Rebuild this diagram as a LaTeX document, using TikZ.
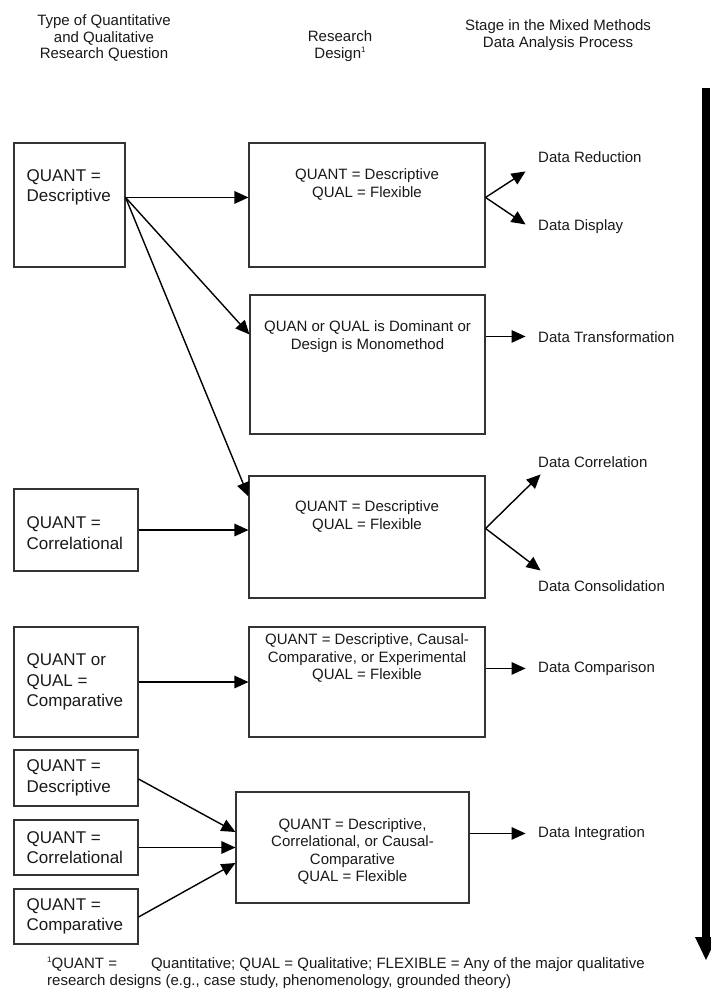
\documentclass[tikz,border=0pt]{standalone}
\usepackage{fontspec}
\setmainfont{Liberation Sans}
\usetikzlibrary{arrows.meta,calc}
\begin{document}
\begin{tikzpicture}[x=1pt,y=-1pt,
  box/.style={draw=black!80, line width=1.1pt, inner sep=0pt},
  lefttext/.style={anchor=west, align=left, inner sep=0pt, font=\fontsize{17}{20.5}\selectfont, text=black!90},
  midtext/.style={align=center, inner sep=0pt, font=\fontsize{15}{17.5}\selectfont, text=black!90},
  stagelbl/.style={anchor=west, inner sep=0pt, font=\fontsize{15}{18}\selectfont, text=black!90},
  headtext/.style={align=center, inner sep=0pt, font=\fontsize{15}{16.5}\selectfont, text=black!90},
  arr/.style={draw=black, line width=1.4pt, -{Triangle[length=14pt,width=12.5pt]}},
]
\useasboundingbox (0,0) rectangle (710,990);

% headers
\node[headtext] (h1) at (104,38) {Type of Quantitative\\and Qualitative\\Research Question};
\node[headtext] (h2) at (340,46) {Research\\Design{\fontsize{8}{8}\selectfont\raisebox{6pt}{1}}};
\node[headtext] (h3) at (558,35) {Stage in the Mixed Methods\\Data Analysis Process};

% left boxes
\node[box, minimum width=111pt, minimum height=124pt] (q1) at (69.5,205) {};
\node[box, minimum width=124pt, minimum height=82pt] (q2) at (76,530) {};
\node[box, minimum width=124pt, minimum height=110pt] (q3) at (76,682) {};
\node[box, minimum width=124pt, minimum height=56pt] (q4) at (76,778) {};
\node[box, minimum width=124pt, minimum height=55pt] (q5) at (76,847.5) {};
\node[box, minimum width=124pt, minimum height=55pt] (q6) at (76,916.5) {};

\node[lefttext] (t1) at ($(q1.north west)+(13,45)$) {QUANT =\\Descriptive};
\node[lefttext] (t2) at ($(q2.west)+(13,3)$) {QUANT =\\Correlational};
\node[lefttext] (t3) at ($(q3.west)+(13,0)$) {QUANT or\\QUAL =\\Comparative};
\node[lefttext] (t4) at ($(q4.west)+(13,0)$) {QUANT =\\Descriptive};
\node[lefttext] (t5) at ($(q5.west)+(13,0)$) {QUANT =\\Correlational};
\node[lefttext] (t6) at ($(q6.west)+(13,0)$) {QUANT =\\Comparative};

% middle boxes
\node[box, minimum width=236pt, minimum height=124pt] (A) at (367,205) {};
\node[box, minimum width=235pt, minimum height=139pt] (B) at (367.5,364.5) {};
\node[box, minimum width=236pt, minimum height=122pt] (C) at (367,537) {};
\node[box, minimum width=236pt, minimum height=110pt] (D) at (367,682) {};
\node[box, minimum width=233pt, minimum height=111pt] (E) at (352.5,847.5) {};

\node[midtext] (tA) at ($(A.north)+(0,42)$) {QUANT = Descriptive\\QUAL = Flexible};
\node[midtext] (tB) at ($(B.north)+(0,42)$) {QUAN or QUAL is Dominant or\\Design is Monomethod};
\node[midtext] (tC) at ($(C.north)+(0,41)$) {QUANT = Descriptive\\QUAL = Flexible};
\node[midtext] (tD) at ($(D.north)+(0,32)$) {QUANT = Descriptive, Causal-\\Comparative, or Experimental\\QUAL = Flexible};
\node[midtext] (tE) at ($(E.center)+(0,4)$) {QUANT = Descriptive,\\Correlational, or Causal-\\Comparative\\QUAL = Flexible};

% stage labels
\node[stagelbl] (lRed) at (538,157) {Data Reduction};
\node[stagelbl] (lDis) at (538,227) {Data Display};
\node[stagelbl] (lTra) at (538,337) {Data Transformation};
\node[stagelbl] (lCor) at (538,462) {Data Correlation};
\node[stagelbl] (lCon) at (538,586) {Data Consolidation};
\node[stagelbl] (lCmp) at (538,669) {Data Comparison};
\node[stagelbl] (lInt) at (538,834) {Data Integration};

% left-to-middle connectors
\coordinate (s1) at ($(q1.north east)+(0,55)$);
\draw[arr] (s1) -- (s1 -| A.west);
\draw[arr] (s1) -- ($(B.north west)+(0,40)$);
\draw[arr] (s1) -- ($(C.north west)+(0,21)$);
\draw[arr] (q2.east) -- (q2.east -| C.west);
\draw[arr] (q3.east) -- (q3.east -| D.west);
\draw[arr] ($(q4.east)+(0,1)$) -- ($(E.west)+(0,-15.5)$);
\draw[arr] (q5.east) -- (q5.east -| E.west);
\draw[arr] ($(q6.east)+(0,0.5)$) -- ($(E.west)+(0,15.5)$);

% middle-to-stage connectors
\coordinate (fa) at ($(A.north east)+(0,55)$);
\coordinate (tRed) at ($(fa)+(40,-26)$);
\coordinate (tDis) at ($(fa)+(40,27)$);
\draw[arr] (fa) -- (tRed);
\draw[arr] (fa) -- (tDis);
\coordinate (fb) at ($(B.north east)+(0,42)$);
\coordinate (tTra) at ($(fb)+(40,0)$);
\draw[arr] (fb) -- (tTra);
\coordinate (fc) at ($(C.north east)+(0,53)$);
\coordinate (tCor) at ($(fc)+(55,-54)$);
\coordinate (tCon) at ($(fc)+(55,42)$);
\draw[arr] (fc) -- (tCor);
\draw[arr] (fc) -- (tCon);
\coordinate (fd) at ($(D.north east)+(0,42)$);
\coordinate (tCmp) at ($(fd)+(40,0)$);
\draw[arr] (fd) -- (tCmp);
\coordinate (fe) at ($(E.north east)+(0,42)$);
\coordinate (tInt) at ($(fe)+(56,0)$);
\draw[arr] (fe) -- (tInt);

% big process arrow
\fill[black] (702,88) rectangle (710,938);
\fill[black] (695,937) -- (717,937) -- (706,960) -- cycle;

% footnote
\node[anchor=north west, align=left, inner sep=0pt, font=\fontsize{15}{17}\selectfont, text=black!90] (fn) at (47,957)
 {{\fontsize{8}{8}\selectfont\raisebox{6pt}{1}}QUANT =\hspace{34pt}Quantitative; QUAL = Qualitative; FLEXIBLE = Any of the major qualitative\\research designs (e.g., case study, phenomenology, grounded theory)};
\end{tikzpicture}
\end{document}
